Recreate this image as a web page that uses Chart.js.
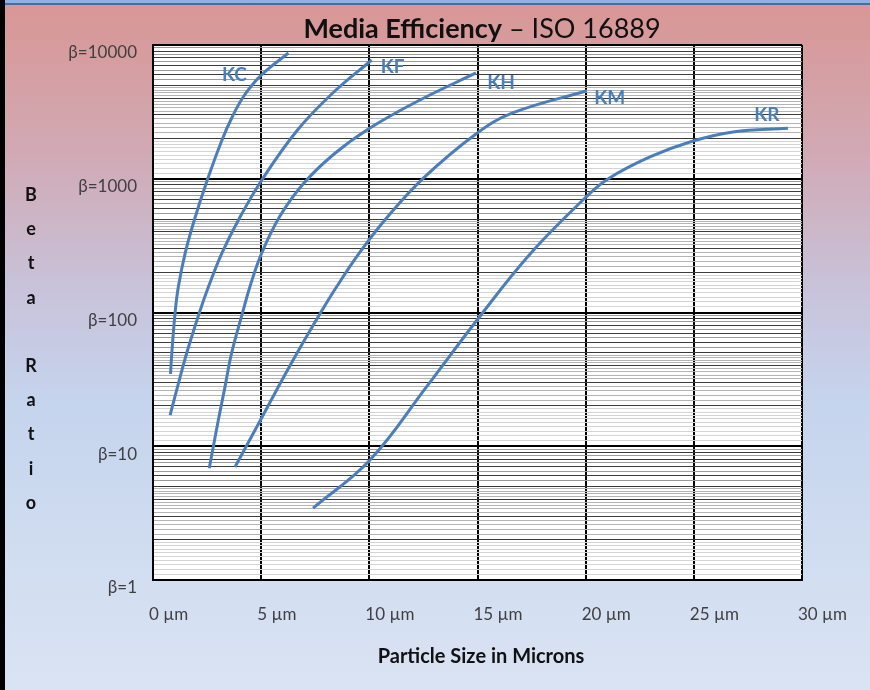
<!DOCTYPE html>
<html>
<head>
<meta charset="utf-8">
<script src="https://cdn.jsdelivr.net/npm/chart.js@4.4.1/dist/chart.umd.min.js"></script>
<style>
html,body{margin:0;padding:0;}
body{width:870px;height:690px;overflow:hidden;position:relative;
  background:linear-gradient(to bottom,#d99694 0%,#d1a9b4 22%,#c8c3da 42%,#c5d4ed 58%,#cfdcf0 78%,#dae3f3 100%);}
#topbar{position:absolute;left:0;top:0;width:870px;height:3px;background:#8db3e2;border-bottom:2px solid #4a6da0;}
#leftbar{position:absolute;left:0;top:0;width:5px;height:690px;background:#000;}
#c{position:absolute;left:0;top:0;}
</style>
</head>
<body>
<div id="topbar"></div>
<div id="leftbar"></div>
<canvas id="c" width="870" height="690"></canvas>
<script>
// ---------- data ----------
const titleMain = 'Media Efficiency';
const titleSub = ' \u2013 ISO 16889';
const xAxisTitle = 'Particle Size in Microns';
const yAxisTitle = 'Beta Ratio';
const seriesNames = ['KC', 'KF', 'KH', 'KM', 'KR'];

const kcSize = [0.81, 0.87, 1.02, 1.17, 1.49, 1.91, 2.51, 3.19, 3.66, 4.17, 4.78, 5.26, 6.26];
const kcBeta = [34.7, 49.8, 99.1, 155, 279, 492, 979, 1950, 2897, 4083, 5470, 6500, 8710];

const kfSize = [0.79, 1.13, 1.56, 2.14, 2.56, 3.19, 3.95, 5.03, 6.68, 8.31, 10.11];
const kfBeta = [17.1, 27.7, 49.8, 99.1, 155, 279, 492, 979, 2314, 4375, 7726];

const khSize = [2.60, 3.02, 3.33, 3.63, 4.14, 4.48, 5.02, 5.87, 6.96, 8.37, 10.03, 12.34, 14.93];
const khBeta = [6.84, 15.7, 27.9, 49.5, 99.7, 156, 277, 526, 921, 1531, 2395, 3880, 6180];

const kmSize = [3.79, 4.97, 5.79, 6.66, 7.74, 8.48, 9.54, 10.72, 12.51, 14.93, 16.62, 20.05];
const kmBeta = [7.0, 15.7, 27.7, 49.8, 99.1, 155, 279, 492, 1014, 2162, 3104, 4550];

const krSize = [7.40, 10.03, 12.65, 14.98, 17.43, 19.97, 21.03, 22.97, 24.96, 26.81, 29.35];
const krBeta = [3.45, 7.89, 27.9, 87.9, 274, 718, 996, 1455, 1915, 2240, 2384];

const xTickValues = [0, 5, 10, 15, 20, 25, 30];
const xTickUnit = ' \u00b5m';
const yDecades = [1, 10, 100, 1000, 10000];
const yTickLabels = ['\u03b2=1', '\u03b2=10', '\u03b2=100', '\u03b2=1000', '\u03b2=10000'];

// ---------- style ----------
const lineColor = '#4a7ebb';
const labelOffsets = [[-54, 22], [21, 7], [25, 10], [23, 7], [-21, -13]];
const minorMultipliers = [1.1,1.2,1.3,1.4,1.5,1.6,1.7,1.8,1.9,2,2.2,2.4,2.6,2.8,3,3.2,3.4,3.6,3.8,4,4.2,4.4,4.6,4.8,5,5.5,6,6.5,7,7.5,8,8.5,9,9.5];

const seriesX = [kcSize, kfSize, khSize, kmSize, krSize];
const seriesY = [kcBeta, kfBeta, khBeta, kmBeta, krBeta];

function gridKind(v) {
  const e = Math.log10(v);
  if (Math.abs(e - Math.round(e)) < 1e-6) return 'major';
  const m = v / Math.pow(10, Math.floor(e + 1e-9));
  if (Math.abs(m - Math.round(m)) < 1e-6) return 'int';
  if (m >= 5) return 'half';
  if (m >= 2) return 'fifth';
  return 'tenth';
}
const gridColors = {major: '#000000', int: '#3c3c3c', half: '#9a9a9a', fifth: '#b4b4b4', tenth: '#d4d4d4'};
const gridWidths = {major: 2, int: 1, half: 1, fifth: 1, tenth: 1};

const datasets = seriesNames.map((name, i) => ({
  label: name,
  data: seriesX[i].map((x, j) => ({x: x, y: seriesY[i][j]})),
  borderColor: lineColor,
  borderWidth: 3,
  pointRadius: 0,
  fill: false,
  tension: 0.4,
  borderCapStyle: 'butt'
}));

const bgPlugin = {
  id: 'bg',
  beforeDraw(chart) {
    const {ctx, chartArea: a} = chart;
    ctx.save();
    ctx.fillStyle = '#ffffff';
    ctx.fillRect(a.left, a.top, a.right - a.left, a.bottom - a.top);
    ctx.restore();
  }
};

const textPlugin = {
  id: 'texts',
  afterDraw(chart) {
    const {ctx} = chart;
    ctx.save();
    // title
    ctx.textBaseline = 'alphabetic';
    ctx.fillStyle = '#111111';
    ctx.font = 'bold 27px Lato';
    const w1 = ctx.measureText(titleMain).width;
    ctx.font = '27px Lato';
    const w2 = ctx.measureText(titleSub).width;
    let sx = 482 - (w1 + w2) / 2;
    ctx.textAlign = 'left';
    ctx.font = 'bold 27px Lato';
    ctx.fillText(titleMain, sx, 38);
    ctx.font = '27px Lato';
    ctx.fillText(titleSub, sx + w1, 38);
    // x axis title
    ctx.textAlign = 'center';
    ctx.font = 'bold 20px Lato';
    ctx.fillStyle = '#111111';
    ctx.fillText(xAxisTitle, 481, 663);
    // y axis title stacked
    ctx.font = 'bold 18px Lato';
    const chars = yAxisTitle.split('');
    chars.forEach((ch, i) => {
      if (ch !== ' ') ctx.fillText(ch, 31, 201 + i * 34.2);
    });
    // series labels
    ctx.font = 'bold 19px Lato';
    ctx.fillStyle = lineColor;
    ctx.textBaseline = 'middle';
    chart.data.datasets.forEach((ds, i) => {
      const meta = chart.getDatasetMeta(i);
      const last = meta.data[meta.data.length - 1];
      ctx.fillText(seriesNames[i], last.x + labelOffsets[i][0], last.y + labelOffsets[i][1]);
    });
    ctx.restore();
  }
};

new Chart(document.getElementById('c'), {
  type: 'line',
  data: {datasets},
  options: {
    responsive: false,
    animation: false,
    devicePixelRatio: 1,
    layout: {padding: {left: 0, top: 45, right: 68, bottom: 0}},
    plugins: {legend: {display: false}, tooltip: {enabled: false}, title: {display: false}},
    scales: {
      x: {
        type: 'linear', min: 0, max: 30,
        afterBuildTicks(scale) { scale.ticks = xTickValues.map(v => ({value: v})); },
        afterFit(scale) { scale.height = 110; scale.paddingRight = 0; scale.paddingLeft = 0; },
        ticks: {
          autoSkip: false, align: 'start', labelOffset: -4, padding: 24,
          color: '#404040', font: {family: 'Lato', size: 17},
          maxRotation: 0, minRotation: 0,
          callback: v => v + xTickUnit
        },
        grid: {color: '#000000', lineWidth: 2, drawTicks: false},
        border: {color: '#000000', width: 2}
      },
      y: {
        type: 'logarithmic', min: 1, max: 10000,
        afterBuildTicks(scale) {
          const vals = [];
          for (let d = 0; d < yDecades.length - 1; d++) {
            vals.push(yDecades[d]);
            minorMultipliers.forEach(m => vals.push(+(yDecades[d] * m).toPrecision(6)));
          }
          vals.push(yDecades[yDecades.length - 1]);
          scale.ticks = vals.map(v => ({value: v}));
        },
        afterFit(scale) { scale.width = 153; scale.paddingTop = 0; scale.paddingBottom = 0; },
        ticks: {
          autoSkip: false, padding: 16, labelOffset: 8,
          color: '#404040', font: {family: 'Lato', size: 17},
          callback: (v) => {
            const k = yDecades.indexOf(v);
            return k >= 0 ? yTickLabels[k] : '';
          }
        },
        grid: {
          drawTicks: false,
          color: ctx => gridColors[gridKind(ctx.tick.value)],
          lineWidth: ctx => gridWidths[gridKind(ctx.tick.value)]
        },
        border: {color: '#000000', width: 2}
      }
    }
  },
  plugins: [bgPlugin, textPlugin]
});
</script>
</body>
</html>
